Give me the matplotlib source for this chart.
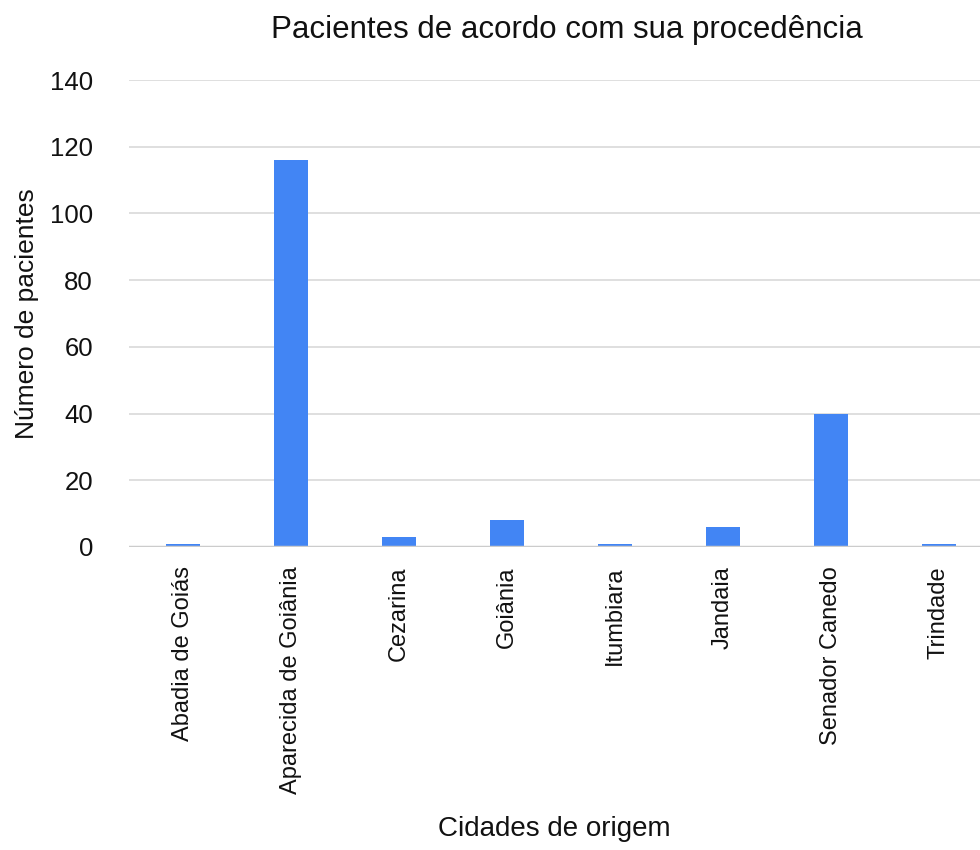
import numpy as np
import matplotlib.pyplot as plt

plt.rcParams['font.family'] = ['Liberation Sans', 'DejaVu Sans']

cidades = ["Abadia de Goiás", "Aparecida de Goiânia", "Cezarina", "Goiânia",
           "Itumbiara", "Jandaia", "Senador Canedo", "Trindade"]
pacientes = [1, 116, 3, 8, 1, 6, 40, 1]

fig = plt.figure(figsize=(9.8, 8.5), dpi=100)
ax = fig.add_axes([129 / 980, 1 - 547 / 850, (980 - 129) / 980, (547 - 80) / 850])

x = np.arange(len(cidades))
ax.bar(x, pacientes, width=0.31, color="#4285f4", zorder=3)

ax.set_ylim(0, 140)
ax.set_xlim(-0.5, 7.38)
ax.set_yticks(np.arange(0, 141, 20))
ax.yaxis.grid(True, color="#d9d9d9", linewidth=1.2, zorder=0)
ax.axhline(0, color="#cccccc", linewidth=2.5, zorder=4)
for s in ax.spines.values():
    s.set_visible(False)
ax.tick_params(length=0, colors="#111111")
ax.set_xticks(x)
ax.set_xticklabels(cidades, rotation=90, fontsize=17)
ax.tick_params(axis="x", pad=14)
ax.tick_params(axis="y", pad=26, labelsize=18.5)

ax.set_ylabel("Número de pacientes", fontsize=19, color="#111111", labelpad=8)
ax.set_xlabel("Cidades de origem", fontsize=20, color="#111111", labelpad=16)
fig.text(567 / 980, 1 - 30 / 850, "Pacientes de acordo com sua procedência",
         ha="center", va="center", fontsize=22.5, color="#111111")

fig.savefig("out.png", dpi=100)
